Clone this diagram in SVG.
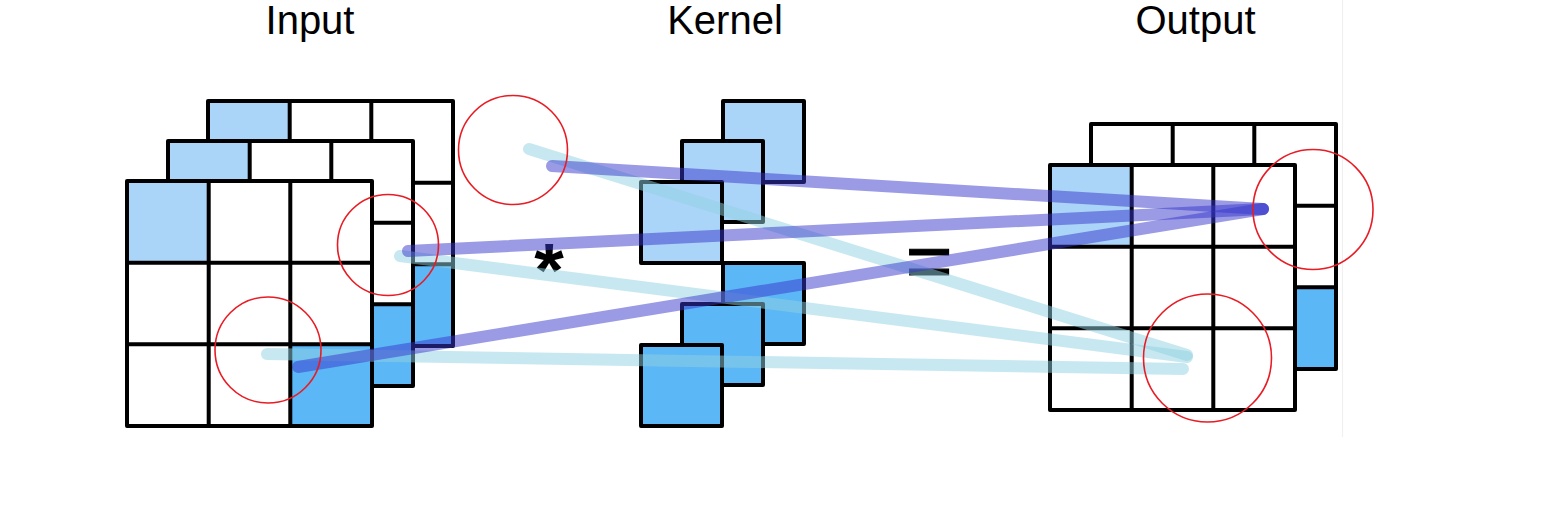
<svg xmlns="http://www.w3.org/2000/svg" xmlns:xlink="http://www.w3.org/1999/xlink" width="1560" height="507" viewBox="0 0 1560 507">
<style>
.bg{fill:#fff}
.edge{stroke:#f0f0f0;stroke-width:1.2;fill:none}
.w{fill:#fff}
.lb{fill:#abd5f8}
.db{fill:#5cb7f6}
.gl{fill:none;stroke:#000;stroke-width:4;stroke-linejoin:round;stroke-linecap:square}
.k{stroke:#000;stroke-width:4;stroke-linejoin:round}
.title{font-family:"Liberation Sans",Arial,sans-serif;font-size:40px;fill:#000;text-anchor:middle}
.op{font-family:"Liberation Sans",Arial,sans-serif;fill:#000;text-anchor:middle}
.cy{fill:none;stroke:#8fd1e1;stroke-opacity:.5;stroke-width:12;stroke-linecap:round}
.pu{fill:none;stroke:#3535cc;stroke-opacity:.5;stroke-width:12;stroke-linecap:round}
.ring{fill:none;stroke:#e81c24;stroke-width:1.6}
</style>
<defs>
<g id="grid">
<rect class="gl" x="0" y="0" width="245" height="245"/>
<path class="gl" d="M81.7 0V245M163.3 0V245M0 81.7H245M0 163.3H245"/>
</g>
</defs>
<rect class="bg" x="0" y="0" width="1560" height="507"/>
<line class="edge" x1="1342.5" y1="0" x2="1342.5" y2="437"/>

<text class="title" x="310" y="34">Input</text>
<text class="title" x="725" y="34">Kernel</text>
<text class="title" x="1195.5" y="34">Output</text>

<g id="input">
<g id="input-layer-3" transform="translate(208,101)">
<rect class="w" width="245" height="245"/>
<rect class="lb" width="81.7" height="81.7"/>
<rect class="db" x="163.3" y="163.3" width="81.7" height="81.7"/>
<use xlink:href="#grid"/>
</g>
<g id="input-layer-2" transform="translate(168,141)">
<rect class="w" width="245" height="245"/>
<rect class="lb" width="81.7" height="81.7"/>
<rect class="db" x="163.3" y="163.3" width="81.7" height="81.7"/>
<use xlink:href="#grid"/>
</g>
<g id="input-layer-1" transform="translate(127,181)">
<rect class="w" width="245" height="245"/>
<rect class="lb" width="81.7" height="81.7"/>
<rect class="db" x="163.3" y="163.3" width="81.7" height="81.7"/>
<use xlink:href="#grid"/>
</g>
</g>

<g id="kernel">
<rect class="k lb" x="723" y="101" width="81" height="81"/>
<rect class="k lb" x="682" y="141" width="81" height="81"/>
<rect class="k lb" x="641" y="182" width="81" height="81"/>
<rect class="k db" x="723" y="263" width="81" height="81"/>
<rect class="k db" x="682" y="304" width="81" height="81"/>
<rect class="k db" x="641" y="345" width="81" height="81"/>
</g>

<g id="output">
<g id="output-layer-2" transform="translate(1091,124)">
<rect class="w" width="245" height="245"/>
<rect class="db" x="163.3" y="163.3" width="81.7" height="81.7"/>
<use xlink:href="#grid"/>
</g>
<g id="output-layer-1" transform="translate(1050,165)">
<rect class="w" width="245" height="245"/>
<rect class="lb" width="81.7" height="81.7"/>
<use xlink:href="#grid"/>
</g>
</g>

<g id="operators">
<text class="op" x="549" y="296" font-size="76" font-weight="bold">*</text>
<text class="op" x="929" y="288" font-size="80" stroke="#000" stroke-width="1.2">=</text>
</g>

<g id="connectors">
<line class="cy" x1="529" y1="149" x2="1187" y2="355"/>
<line class="cy" x1="400" y1="256" x2="1187" y2="357"/>
<line class="cy" x1="267" y1="354" x2="1183" y2="369"/>
<line class="pu" x1="552" y1="166" x2="1263" y2="209"/>
<line class="pu" x1="408" y1="251" x2="1263" y2="209"/>
<line class="pu" x1="298" y1="367" x2="1263" y2="209"/>
</g>

<g id="highlights">
<circle class="ring" cx="513" cy="150" r="54.5"/>
<circle class="ring" cx="388" cy="245" r="50.5"/>
<circle class="ring" cx="268" cy="350" r="53"/>
<circle class="ring" cx="1313" cy="209.5" r="60"/>
<circle class="ring" cx="1207.5" cy="358" r="64"/>
</g>
</svg>
